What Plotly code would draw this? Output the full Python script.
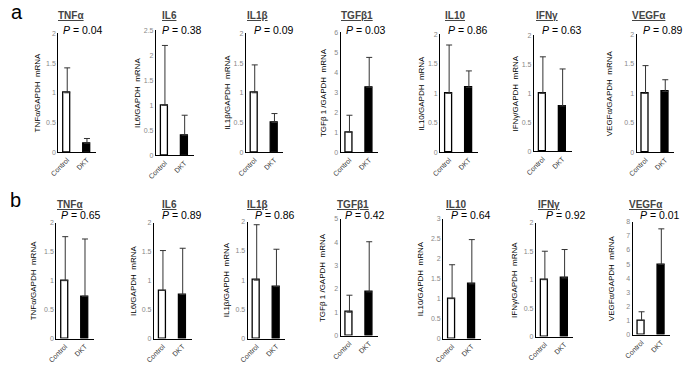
import plotly.graph_objects as go

W, H = 685, 370

genes = ["TNFα", "IL6", "IL1β", "TGFβ1", "IL10", "IFNγ", "VEGFα"]
ytitles = ["TNFα/GAPDH  mRNA", "IL6/GAPDH  mRNA", "IL1β/GAPDH  mRNA", "TGFβ 1 /GAPDH  mRNA",
           "IL10/GAPDH  mRNA", "IFNγ/GAPDH  mRNA", "VEGFα/GAPDH  mRNA"]
groups = ["Control", "DKT"]

# Panel a
a_mean = [[1.0, 0.15], [1.0, 0.40], [1.0, 0.50], [1.0, 3.25], [1.0, 1.10], [1.0, 0.78], [1.0, 1.03]]
a_sd = [[0.42, 0.08], [1.20, 0.40], [0.47, 0.15], [0.85, 1.50], [0.82, 0.28], [0.63, 0.64], [0.47, 0.20]]
a_p = ["0.04", "0.38", "0.09", "0.03", "0.86", "0.63", "0.89"]
a_ymax = [2, 2.5, 2, 6, 2, 2, 2]
a_dtick = [0.5, 0.5, 0.5, 1, 0.5, 0.5, 0.5]

# Panel b
b_mean = [[1.0, 0.73], [0.83, 0.76], [1.0, 0.89], [1.0, 1.87], [1.0, 1.37], [1.0, 1.03], [1.0, 4.98]]
b_sd = [[0.76, 0.99], [0.69, 0.80], [0.95, 0.64], [0.73, 2.15], [0.85, 1.11], [0.50, 0.50], [0.62, 2.52]]
b_p = ["0.65", "0.89", "0.86", "0.42", "0.64", "0.92", "0.01"]
b_ymax = [2, 2, 2, 5, 3, 2, 8]
b_dtick = [0.5, 0.5, 0.5, 1, 0.5, 0.5, 1]

# layout (pixel geometry): axis x, top y, zero y, ytitle offset, title x, p x
a_geom = [(50, 30, 151, 21, 63, 75), (149, 27, 154, 19, 163, 175), (240, 30, 151, 18, 252, 269),
          (336, 29, 151, 18, 353, 362), (437, 31, 151, 19, 452, 465), (532, 32, 150, 19, 545, 560),
          (636, 31, 151, 28, 649, 663)]
b_geom = [(48, 223, 341, 23, 62, 73), (147, 223, 341, 21, 163, 175), (242, 222, 341, 22, 252, 270),
          (336, 219, 338, 19, 349, 361), (440, 219, 341, 23, 453, 468), (534, 223, 339, 22, 547, 564),
          (632, 222, 337, 22, 645, 660)]
a_ty, a_py = 12, 27
b_ty, b_py = 204, 215

FONT = "Arial, Liberation Sans, sans-serif"
fig = go.Figure()
annotations = []
layout = {}
idx = 0

def ann(x, y, text, size, color, angle=0):
    annotations.append(dict(x=x / W, y=1 - y / H, xref="paper", yref="paper", text=text,
                            textangle=angle, showarrow=False, xanchor="center", yanchor="middle",
                            font=dict(size=size, color=color, family=FONT)))

def add_panel(mean, sd, p, ymax, dtick, geom, ty, py, gi):
    global idx
    idx += 1
    ax, top, zero, yoff, tx, px = geom
    xa = "xaxis" if idx == 1 else f"xaxis{idx}"
    ya = "yaxis" if idx == 1 else f"yaxis{idx}"
    xr = "x" if idx == 1 else f"x{idx}"
    yr = "y" if idx == 1 else f"y{idx}"
    fig.add_trace(go.Bar(
        x=[0, 1], y=mean, width=0.36,
        marker=dict(color=["white", "black"], line=dict(color="black", width=1.3)),
        error_y=dict(type="data", array=sd, arrayminus=[0, 0], symmetric=False,
                     color="#333", thickness=1, width=3),
        xaxis=xr, yaxis=yr, showlegend=False))
    layout[xa] = dict(domain=[ax / W, (ax + 38) / W], range=[-0.45, 1.45], anchor=yr,
                      showline=True, linecolor="black", linewidth=1.3, showgrid=False,
                      zeroline=False, tickvals=[0, 1], ticktext=groups, tickangle=-45,
                      ticks="", tickfont=dict(size=7, color="#333", family=FONT))
    layout[ya] = dict(domain=[1 - zero / H, 1 - top / H], range=[0, ymax], anchor=xr,
                      showline=True, linecolor="black", linewidth=1.3, showgrid=False,
                      zeroline=False, dtick=dtick, tick0=0, ticks="",
                      tickfont=dict(size=7, color="#888", family=FONT))
    ann(ax - yoff, (top + zero) / 2, ytitles[gi], 8, "black", -90)
    ann(tx, ty, f"<b><u>{genes[gi]}</u></b>", 10, "#444")
    ann(px, py, f"<i>P</i> = {p}", 10.5, "black")

for i in range(7):
    add_panel(a_mean[i], a_sd[i], a_p[i], a_ymax[i], a_dtick[i], a_geom[i], a_ty, a_py, i)
for i in range(7):
    add_panel(b_mean[i], b_sd[i], b_p[i], b_ymax[i], b_dtick[i], b_geom[i], b_ty, b_py, i)

ann(8, 8, "a", 20, "black")
ann(7, 200, "b", 20, "black")

fig.update_layout(width=W, height=H, margin=dict(l=0, r=0, t=0, b=0),
                  paper_bgcolor="white", plot_bgcolor="white", bargap=0,
                  annotations=annotations, font=dict(family=FONT), **layout)
css = ("var s=document.createElement('style');"
       "s.innerHTML='html,body{margin:0!important;padding:0!important;overflow:hidden}';"
       "document.head.appendChild(s);")
fig.write_html("out.html", config={"displayModeBar": False}, post_script=css)
